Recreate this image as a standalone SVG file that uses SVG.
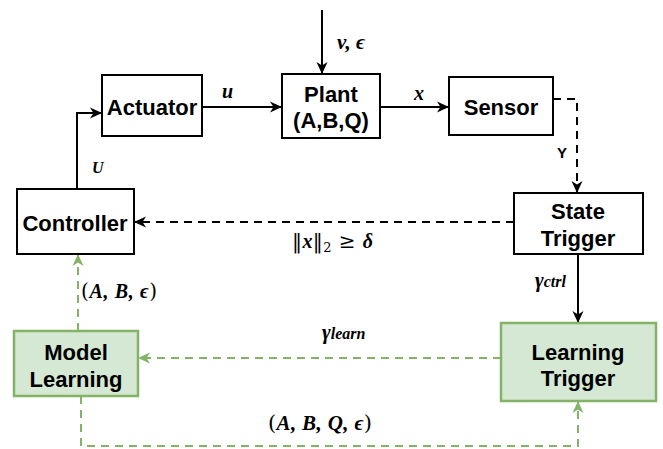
<svg xmlns="http://www.w3.org/2000/svg" width="663" height="449" viewBox="0 0 663 449">
<style>
.box{fill:#ffffff;stroke:#000000;stroke-width:2}
.gbox{fill:#d5e8d4;stroke:#82b366;stroke-width:2.5}
.lbl{font-family:"Liberation Sans",Arial,sans-serif;font-weight:bold;font-size:22px;fill:#000;text-anchor:middle}
.math{font-family:"Liberation Serif","Times New Roman",serif;font-style:italic;font-weight:bold;fill:#000}
.up{font-family:"DejaVu Serif","Liberation Serif",serif;font-style:normal;font-weight:normal;fill:#000}
.ln{fill:none;stroke:#000;stroke-width:2}
.dash{stroke-dasharray:8 6}
.gln{fill:none;stroke:#82b366;stroke-width:2;stroke-dasharray:8 6}
</style>
<defs>
<marker id="ab" markerUnits="userSpaceOnUse" markerWidth="14" markerHeight="12" refX="12" refY="6" orient="auto" viewBox="0 0 14 12">
<path d="M0,0.5 L12,6 L0,11.5 L3.5,6 Z" fill="#000" stroke="none"/>
</marker>
<marker id="ag" markerUnits="userSpaceOnUse" markerWidth="14" markerHeight="12" refX="12" refY="6" orient="auto" viewBox="0 0 14 12">
<path d="M0,0.5 L12,6 L0,11.5 L3.5,6 Z" fill="#82b366" stroke="none"/>
</marker>
</defs>

<g id="connectors">
<path class="ln" d="M322,10 L322,74" marker-end="url(#ab)"/>
<path class="ln" d="M202,107 L282,107" marker-end="url(#ab)"/>
<path class="ln" d="M380,107 L449,107" marker-end="url(#ab)"/>
<path class="ln dash" d="M553,99 L577,99 L577,193" marker-end="url(#ab)"/>
<path class="ln dash" d="M514,222 L134,222" marker-end="url(#ab)"/>
<path class="ln" d="M77,189 L77,113 L102,113" marker-end="url(#ab)"/>
<path class="ln" d="M578,254 L578,323" marker-end="url(#ab)"/>
<path class="gln" d="M501,358 L138,358" marker-end="url(#ag)"/>
<path class="gln" d="M78,331 L78,254" marker-end="url(#ag)"/>
<path class="gln" d="M81,396 L81,446 L578,446 L578,401" marker-end="url(#ag)"/>

<text class="math" x="337" y="49" font-size="21">v, ϵ</text>
<text class="math" x="222" y="98" font-size="20">u</text>
<text class="math" x="414" y="100" font-size="20">x</text>
<text class="math" x="92" y="173" font-size="16">U</text>
<text class="lbl" x="562" y="158" style="font-size:15px">Y</text>
<text class="math" x="292" y="248" font-size="20" textLength="81" lengthAdjust="spacing"><tspan class="up">‖</tspan>x<tspan class="up">‖</tspan><tspan class="up" font-size="13" dy="4">2</tspan><tspan class="up" dy="-4"> ≥ </tspan>δ</text>
<text class="math" x="535" y="287" font-size="21">γ<tspan font-size="16">ctrl</tspan></text>
<text class="math" x="81" y="298" font-size="20" textLength="76" lengthAdjust="spacing"><tspan class="up">(</tspan>A, B, ϵ<tspan class="up">)</tspan></text>
<text class="math" x="322" y="339" font-size="21">γ<tspan font-size="16">learn</tspan></text>
<text class="math" x="268" y="430" font-size="21" textLength="104" lengthAdjust="spacing"><tspan class="up">(</tspan>A, B, Q, ϵ<tspan class="up">)</tspan></text>
</g>

<g id="actuator">
<rect class="box" x="102" y="75" width="100" height="61"/>
<text class="lbl" x="152" y="115">Actuator</text>
</g>
<g id="plant">
<rect class="box" x="282" y="74" width="98" height="64"/>
<text class="lbl" x="331" y="102">Plant</text>
<text class="lbl" x="331" y="128">(A,B,Q)</text>
</g>
<g id="sensor">
<rect class="box" x="449" y="77" width="104" height="58"/>
<text class="lbl" x="501" y="115">Sensor</text>
</g>
<g id="state-trigger">
<rect class="box" x="514" y="193" width="129" height="61"/>
<text class="lbl" x="578" y="219">State</text>
<text class="lbl" x="578" y="246">Trigger</text>
</g>
<g id="controller">
<rect class="box" x="17" y="189" width="117" height="65"/>
<text class="lbl" x="75" y="231">Controller</text>
</g>
<g id="model-learning">
<rect class="gbox" x="14" y="331" width="124" height="65"/>
<text class="lbl" x="76" y="360">Model</text>
<text class="lbl" x="76" y="387">Learning</text>
</g>
<g id="learning-trigger">
<rect class="gbox" x="501" y="323" width="155" height="78"/>
<text class="lbl" x="578" y="360">Learning</text>
<text class="lbl" x="578" y="386">Trigger</text>
</g>
</svg>
